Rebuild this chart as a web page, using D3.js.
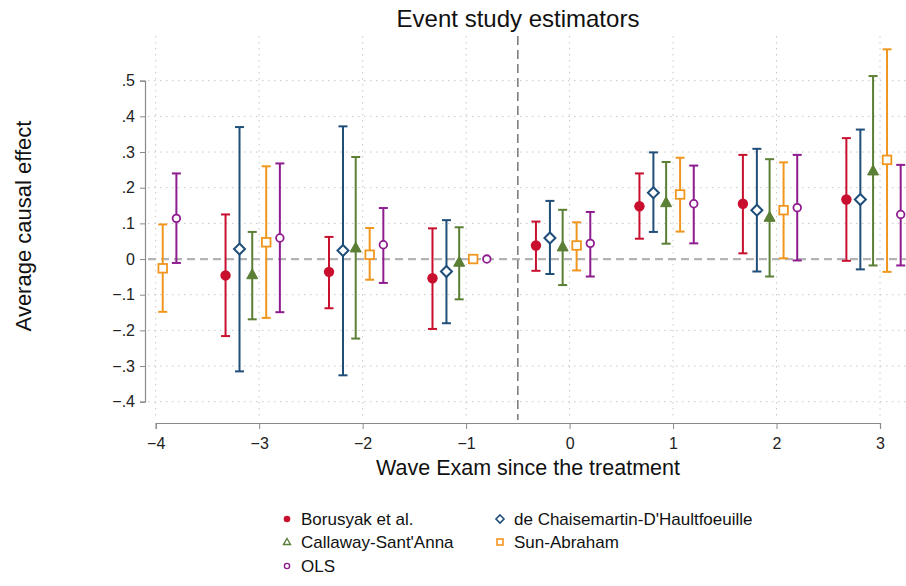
<!DOCTYPE html>
<html>
<head>
<meta charset="utf-8">
<script src="https://cdn.jsdelivr.net/npm/d3@7"></script>
<style>
  body { margin: 0; background: #fff; }
  svg { font-family: "Liberation Sans", Arial, sans-serif; }
</style>
</head>
<body>
<svg id="chart" width="906" height="586"></svg>
<script>
/* Daten */
const periods   = [-4, -3, -2, -1, 0, 1, 2, 3];
const seriesNames = ["Borusyak et al.", "de Chaisemartin-D'Haultfoeuille", "Callaway-Sant'Anna", "Sun-Abraham", "OLS"];
const yTicks    = [-0.4, -0.3, -0.2, -0.1, 0, 0.1, 0.2, 0.3, 0.4, 0.5];

// [period, estimate, lower, upper]
const borusyak = [
  [-3, -0.046, -0.216, 0.125],
  [-2, -0.036, -0.138, 0.062],
  [-1, -0.054, -0.196, 0.086],
  [ 0,  0.038, -0.033, 0.105],
  [ 1,  0.148,  0.057, 0.240],
  [ 2,  0.155,  0.016, 0.292],
  [ 3,  0.167, -0.005, 0.339]
];
const chaisemartin = [
  [-3,  0.028, -0.315, 0.370],
  [-2,  0.024, -0.326, 0.372],
  [-1, -0.035, -0.180, 0.109],
  [ 0,  0.059, -0.042, 0.163],
  [ 1,  0.186,  0.076, 0.299],
  [ 2,  0.137, -0.035, 0.309],
  [ 3,  0.167, -0.029, 0.363]
];
const callaway = [
  [-3, -0.044, -0.169, 0.076],
  [-2,  0.031, -0.223, 0.286],
  [-1, -0.009, -0.113, 0.089],
  [ 0,  0.034, -0.073, 0.138],
  [ 1,  0.158,  0.043, 0.272],
  [ 2,  0.117, -0.049, 0.280],
  [ 3,  0.247, -0.018, 0.513]
];
const sunAbraham = [
  [-4, -0.026, -0.148, 0.097],
  [-3,  0.047, -0.165, 0.260],
  [-2,  0.012, -0.058, 0.087],
  [-1,  0.000,  0.000, 0.000],
  [ 0,  0.038, -0.032, 0.103],
  [ 1,  0.181,  0.077, 0.284],
  [ 2,  0.137,  0.002, 0.271],
  [ 3,  0.278, -0.036, 0.588]
];
const ols = [
  [-4,  0.114, -0.011, 0.240],
  [-3,  0.059, -0.149, 0.268],
  [-2,  0.040, -0.067, 0.143],
  [-1,  0.000,  0.000, 0.000],
  [ 0,  0.044, -0.049, 0.132],
  [ 1,  0.155,  0.044, 0.262],
  [ 2,  0.144, -0.004, 0.292],
  [ 3,  0.125, -0.018, 0.264]
];

const seriesData = [borusyak, chaisemartin, callaway, sunAbraham, ols];
const colors  = ["#c8102e", "#1f4e79", "#5b7f35", "#f0961e", "#8e1c8e"];
const shapes  = ["circle", "diamond", "triangle", "square", "smallcircle"];
const offsets = [-0.325, -0.19, -0.067, 0.068, 0.2];

/* Layout */
const svg = d3.select("#chart");
const plotTop = 36, plotBottom = 418, plotLeft = 148, plotRight = 906;

const x = d3.scaleLinear().domain([-4, 3]).range([155.7, 880]);
const y = d3.scaleLinear().domain([-0.4, 0.5]).range([401.7, 80.7]);

const gridColor = "#c8c8c8";

// horizontale Gitterlinien
svg.append("g").selectAll("line")
  .data(yTicks.filter(d => d !== 0))
  .enter().append("line")
    .attr("x1", plotLeft).attr("x2", plotRight)
    .attr("y1", d => y(d)).attr("y2", d => y(d))
    .attr("stroke", gridColor).attr("stroke-width", 1)
    .attr("stroke-dasharray", "1.5,4.5");

// vertikale Gitterlinien
svg.append("g").selectAll("line")
  .data(periods)
  .enter().append("line")
    .attr("x1", d => x(d)).attr("x2", d => x(d))
    .attr("y1", plotTop).attr("y2", plotBottom)
    .attr("stroke", gridColor).attr("stroke-width", 1)
    .attr("stroke-dasharray", "1.5,4.5");

// Nulllinie
svg.append("line")
  .attr("x1", plotLeft).attr("x2", plotRight)
  .attr("y1", y(0)).attr("y2", y(0))
  .attr("stroke", "#b4b4b4").attr("stroke-width", 2.2)
  .attr("stroke-dasharray", "8,5");

// Behandlungslinie
svg.append("line")
  .attr("x1", x(-0.5)).attr("x2", x(-0.5))
  .attr("y1", plotTop).attr("y2", plotBottom + 2)
  .attr("stroke", "#606060").attr("stroke-width", 1.3)
  .attr("stroke-dasharray", "9,5");

// Achsen
const yAxis = d3.axisLeft(y).tickValues(yTicks).tickSize(5).tickPadding(5)
  .tickFormat(d => d === 0 ? "0" : d3.format(".1f")(d).replace("0.", "."));
const gy = svg.append("g").attr("transform", "translate(145,0)").call(yAxis);

const xAxis = d3.axisBottom(x).tickValues(periods).tickSize(6).tickPadding(6)
  .tickFormat(d3.format("d"));
const gx = svg.append("g").attr("transform", "translate(0,423)").call(xAxis);

[gy, gx].forEach(g => {
  g.select(".domain").attr("stroke", "#8a8a8a").attr("stroke-width", 1.2);
  g.selectAll(".tick line").attr("stroke", "#8a8a8a");
  g.selectAll(".tick text").attr("fill", "#222").style("font-size", "16px")
    .style("font-family", "Liberation Sans, Arial, sans-serif");
});
gx.selectAll(".tick text").attr("dy", "0.85em");

/* Symbole */
function drawMarker(g, shape, color, cx, cy) {
  if (shape === "circle") {
    g.append("circle").attr("cx", cx).attr("cy", cy).attr("r", 5.2)
      .attr("fill", color);
  } else if (shape === "smallcircle") {
    g.append("circle").attr("cx", cx).attr("cy", cy).attr("r", 3.8)
      .attr("fill", "#fff").attr("stroke", color).attr("stroke-width", 1.8);
  } else if (shape === "diamond") {
    g.append("path")
      .attr("d", `M${cx},${cy - 5.5}L${cx + 5.5},${cy}L${cx},${cy + 5.5}L${cx - 5.5},${cy}Z`)
      .attr("fill", "#fff").attr("stroke", color).attr("stroke-width", 2);
  } else if (shape === "triangle") {
    g.append("path")
      .attr("d", `M${cx},${cy - 6}L${cx + 5.5},${cy + 4}L${cx - 5.5},${cy + 4}Z`)
      .attr("fill", color).attr("stroke", color).attr("stroke-width", 1);
  } else if (shape === "square") {
    g.append("rect").attr("x", cx - 4.3).attr("y", cy - 4.3)
      .attr("width", 8.6).attr("height", 8.6)
      .attr("fill", "#fff").attr("stroke", color).attr("stroke-width", 1.8);
  }
}

seriesData.forEach((data, i) => {
  const g = svg.append("g").attr("class", "series-" + i);
  const col = colors[i];
  data.forEach(d => {
    const cx = x(d[0] + offsets[i]);
    if (d[3] !== d[2]) {
      g.append("line").attr("x1", cx).attr("x2", cx)
        .attr("y1", y(d[2])).attr("y2", y(d[3]))
        .attr("stroke", col).attr("stroke-width", 2);
      [d[2], d[3]].forEach(v => {
        g.append("line").attr("x1", cx - 4.5).attr("x2", cx + 4.5)
          .attr("y1", y(v)).attr("y2", y(v))
          .attr("stroke", col).attr("stroke-width", 2);
      });
    }
    drawMarker(g, shapes[i], col, cx, y(d[1]));
  });
});

/* Texte */
svg.append("text")
  .attr("x", 518).attr("y", 27)
  .attr("text-anchor", "middle")
  .style("font-size", "24px").attr("fill", "#111")
  .text("Event study estimators");

svg.append("text")
  .attr("transform", "translate(31,226) rotate(-90)")
  .attr("text-anchor", "middle")
  .style("font-size", "22px").attr("fill", "#111")
  .text("Average causal effect");

svg.append("text")
  .attr("x", 528).attr("y", 475)
  .attr("text-anchor", "middle")
  .style("font-size", "21.5px").attr("fill", "#111")
  .text("Wave Exam since the treatment");

/* Legende */
const legendPos = [[287, 519], [500, 519], [287, 542], [500, 542], [287, 566]];
const legendShapes = ["circle", "diamond", "triangle", "square", "smallcircle"];
const legend = svg.append("g");
seriesNames.forEach((name, i) => {
  const [lx, ly] = legendPos[i];
  const lg = legend.append("g");
  if (legendShapes[i] === "circle") {
    lg.append("circle").attr("cx", lx).attr("cy", ly).attr("r", 3.3).attr("fill", colors[i]);
  } else if (legendShapes[i] === "diamond") {
    lg.append("path")
      .attr("d", `M${lx},${ly - 4}L${lx + 4},${ly}L${lx},${ly + 4}L${lx - 4},${ly}Z`)
      .attr("fill", "#fff").attr("stroke", colors[i]).attr("stroke-width", 1.6);
  } else if (legendShapes[i] === "triangle") {
    lg.append("path")
      .attr("d", `M${lx},${ly - 3.5}L${lx + 3.5},${ly + 2.5}L${lx - 3.5},${ly + 2.5}Z`)
      .attr("fill", "#fff").attr("stroke", colors[i]).attr("stroke-width", 1.4);
  } else if (legendShapes[i] === "square") {
    lg.append("rect").attr("x", lx - 3).attr("y", ly - 3).attr("width", 6).attr("height", 6)
      .attr("fill", "#fff").attr("stroke", colors[i]).attr("stroke-width", 1.6);
  } else {
    lg.append("circle").attr("cx", lx).attr("cy", ly).attr("r", 2.6)
      .attr("fill", "#fff").attr("stroke", colors[i]).attr("stroke-width", 1.4);
  }
  lg.append("text")
    .attr("x", lx + 14).attr("y", ly + 6)
    .style("font-size", "17px").attr("fill", "#111")
    .text(name);
});
</script>
</body>
</html>
